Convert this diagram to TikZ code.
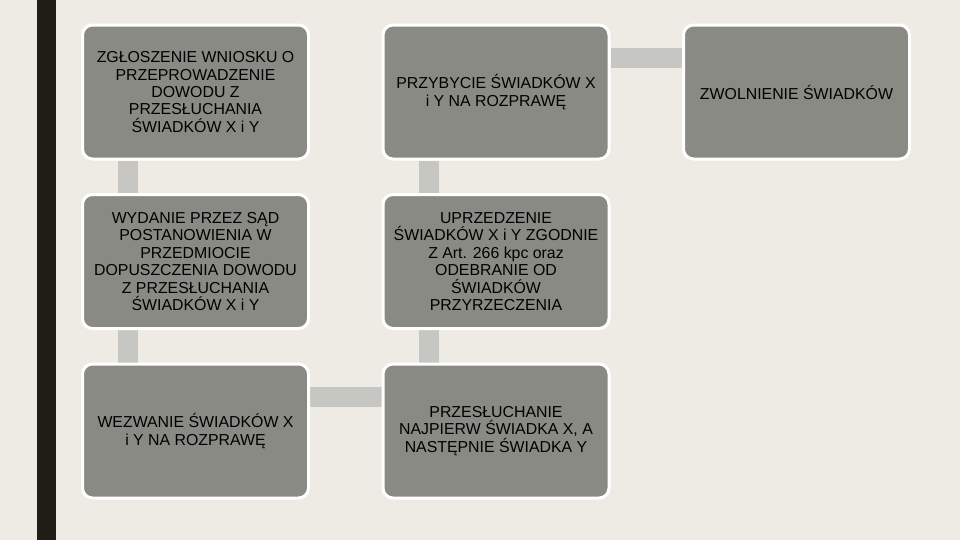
\documentclass[tikz,border=0pt]{standalone}
\usepackage{fontspec}
\setmainfont{Liberation Sans}
\usetikzlibrary{calc,backgrounds}
\definecolor{bgc}{HTML}{EEEBE4}
\definecolor{boxgrey}{HTML}{8A8A85}
\definecolor{conngrey}{HTML}{C6C6C3}
\definecolor{barc}{HTML}{1E1E14}
\tikzset{
  stepbox/.style={draw=white, line width=2.25pt, fill=boxgrey, rounded corners=7.5pt,
    minimum width=169.5pt, minimum height=100.5pt, inner sep=0pt, align=center,
    font=\fontsize{11.9}{13.1}\selectfont, text=black},
  conn/.style={draw=conngrey, line width=15pt}
}
\begin{document}
\begin{tikzpicture}[x=0.75pt,y=-0.75pt]
\useasboundingbox (0,0) rectangle (960,540);
\node[stepbox] (a1) at (195.5,92) {ZGŁOSZENIE WNIOSKU O\\PRZEPROWADZENIE\\DOWODU Z\\PRZESŁUCHANIA\\ŚWIADKÓW X i Y};
\node[stepbox] (a2) at (195.5,261.5) {WYDANIE PRZEZ SĄD\\POSTANOWIENIA W\\PRZEDMIOCIE\\DOPUSZCZENIA DOWODU\\Z PRZESŁUCHANIA\\ŚWIADKÓW X i Y};
\node[stepbox] (a3) at (195.5,431) {WEZWANIE ŚWIADKÓW X\\i Y NA ROZPRAWĘ};
\node[stepbox] (b3) at (496,431) {PRZESŁUCHANIE\\NAJPIERW ŚWIADKA X, A\\NASTĘPNIE ŚWIADKA Y};
\node[stepbox] (b2) at (496,261.5) {UPRZEDZENIE\\ŚWIADKÓW X i Y ZGODNIE\\Z Art. 266 kpc oraz\\ODEBRANIE OD\\ŚWIADKÓW\\PRZYRZECZENIA};
\node[stepbox] (b1) at (496,92) {PRZYBYCIE ŚWIADKÓW X\\i Y NA ROZPRAWĘ};
\node[stepbox] (c1) at (796.5,92) {ZWOLNIENIE ŚWIADKÓW};
\begin{scope}[on background layer]
  \fill[bgc] (0,0) rectangle (960,540);
  \fill[barc] (37,0) rectangle (56,540);
  \draw[conn] ($(a1.south west)+(47,0)$) -- ($(a2.north west)+(47,0)$);
  \draw[conn] ($(a2.south west)+(47,0)$) -- ($(a3.north west)+(47,0)$);
  \draw[conn] ($(a3.north east)+(0,34)$) -- ($(b3.north west)+(0,34)$);
  \draw[conn] ($(b3.north west)+(47,0)$) -- ($(b2.south west)+(47,0)$);
  \draw[conn] ($(b2.north west)+(47,0)$) -- ($(b1.south west)+(47,0)$);
  \draw[conn] ($(b1.north east)+(0,34)$) -- ($(c1.north west)+(0,34)$);
\end{scope}
\end{tikzpicture}
\end{document}
